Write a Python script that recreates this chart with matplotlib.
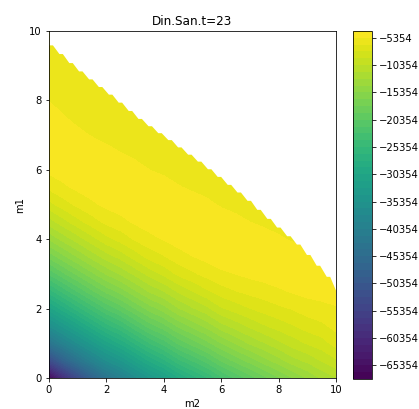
import numpy as np
import matplotlib
matplotlib.use("Agg")
import matplotlib.pyplot as plt

'''Values read off the reference picture'''
# grid positions
m2_vals = [0, 0.5, 1, 1.5, 2, 2.5, 3, 3.5, 4, 4.5, 5,
           5.5, 6, 6.5, 7, 7.5, 8, 8.5, 9, 9.5, 10]
m1_vals = [0, 0.5, 1, 1.5, 2, 2.5, 3, 3.5, 4, 4.5, 5,
           5.5, 6, 6.5, 7, 7.5, 8, 8.5, 9, 9.5, 10]

# Z for each m2 column, from m1=0 upwards (last value lies just past the white edge)
z_cols = [
    [-67000, -53500, -43500, -36600, -31000, -26000, -21500, -17500, -14000, -11000,
     -8300, -6300, -5050, -4480, -4300, -4700, -5400, -5850, -6150, -6450, -6550],
    [-59500, -48000, -39800, -33700, -28400, -23700, -19400, -15700, -12400, -9600,
     -7200, -5600, -4700, -4350, -4480, -5250, -5800, -6120, -6380, -6500],
    [-53500, -43500, -36600, -31000, -26000, -21500, -17500, -14000, -11000, -8300,
     -6300, -5050, -4480, -4300, -5000, -5750, -6100, -6350, -6550, -6600],
    [-48000, -39800, -33700, -28400, -23700, -19400, -15700, -12400, -9600, -7200,
     -5600, -4700, -4350, -4550, -5450, -5950, -6250, -6450, -6600],
    [-43500, -36600, -31000, -26000, -21500, -17500, -14000, -11000, -8300, -6300,
     -5050, -4480, -4300, -5000, -5750, -6100, -6350, -6550],
    [-40500, -34300, -28900, -24200, -19800, -16100, -12700, -9900, -7400, -5740,
     -4770, -4380, -4500, -5360, -5910, -6220, -6430, -6590],
    [-37200, -31500, -26500, -21900, -17900, -14300, -11300, -8560, -6480, -5160,
     -4520, -4310, -4910, -5690, -6070, -6330, -6530],
    [-34300, -28900, -24200, -19800, -16100, -12700, -9900, -7400, -5740, -4770,
     -4380, -4500, -5360, -5910, -6220, -6430],
    [-32100, -27000, -22400, -18300, -14700, -11600, -8800, -6700, -5270, -4570,
     -4320, -4820, -5630, -6040, -6310, -6510],
    [-29400, -24600, -20200, -16400, -13000, -10200, -7600, -5880, -4840, -4400,
     -4450, -5270, -5870, -6190, -6410],
    [-27400, -22800, -18600, -15000, -11800, -9100, -6840, -5380, -4610, -4330,
     -4730, -5570, -6010, -6290, -6490],
    [-25500, -21100, -17100, -13700, -10700, -8100, -6160, -4980, -4450, -4350,
     -5090, -5790, -6130, -6370],
    [-23300, -19000, -15400, -12100, -9300, -7200, -5600, -4660, -4340, -4640,
     -5510, -5980, -6270],
    [-21500, -17500, -14000, -11100, -8560, -6660, -5340, -4550, -4300, -5000,
     -5750, -6100, -6350],
    [-19800, -16100, -12700, -10100, -7900, -6230, -5030, -4430, -4500, -5360,
     -5910, -6220],
    [-18300, -14700, -11700, -9240, -7330, -5940, -4800, -4340, -4820, -5630, -6040],
    [-16800, -13400, -10700, -8560, -6880, -5560, -4570, -4400, -5180, -5830, -6160],
    [-15400, -12100, -9770, -7950, -6520, -5220, -4430, -4640, -5510, -5980],
    [-14000, -11300, -9000, -7300, -6000, -4950, -4450, -4900, -5500],
    [-12700, -10300, -8400, -6900, -5700, -4900, -4450, -4700],
    [-11700, -9300, -7400, -6200, -5450, -4900, -4600],
]

# upper edge of the data (corners of the jagged white edge)
edge_m2 = [0.0, 0.345, 0.69, 1.03, 1.38, 1.72, 2.07, 2.41, 2.76, 3.10,
           3.45, 3.79, 4.14, 4.48, 4.83, 5.17, 5.52, 5.86, 6.21, 6.55,
           6.90, 7.24, 7.59, 7.93, 8.28, 8.62, 8.97, 9.31, 9.66, 10.0]
edge_m1 = [9.60, 9.35, 9.09, 8.85, 8.62, 8.40, 8.18, 7.95, 7.71, 7.48,
           7.27, 7.07, 6.87, 6.66, 6.45, 6.25, 6.03, 5.81, 5.58, 5.36,
           5.12, 4.86, 4.60, 4.35, 4.10, 3.86, 3.56, 3.25, 2.93, 2.50]

levels = np.arange(-67854, -4000, 1250)
cbar_ticks = [-5354, -10354, -15354, -20354, -25354, -30354, -35354,
              -40354, -45354, -50354, -55354, -60354, -65354]

title = "Din.San.t=23"


def main():
    Z = np.full((len(m1_vals), len(m2_vals)), np.nan)
    for j, col in enumerate(z_cols):
        Z[:len(col), j] = col
    M2, M1 = np.meshgrid(m2_vals, m1_vals)

    # jagged edge: short flat step at each corner, then down to the next one
    px, py = [], []
    for k in range(len(edge_m2) - 1):
        px += [edge_m2[k], edge_m2[k] + 0.12]
        py += [edge_m1[k], edge_m1[k]]
    px.append(edge_m2[-1])
    py.append(edge_m1[-1])

    W, H = 419, 409
    fig = plt.figure(figsize=(W / 72, H / 72), dpi=72)
    ax = fig.add_axes([49 / W, 1 - 378 / H, 287 / W, 347 / H])
    cax = fig.add_axes([353 / W, 1 - 379 / H, 19 / W, 348 / H])

    cs = ax.contourf(M2, M1, Z, levels=levels, cmap='viridis')
    ax.fill_between(px, py, 10.5, color='white', lw=0, zorder=1.5)
    ax.set_xlim(0, 10)
    ax.set_ylim(0, 10)
    ax.set_xlabel('m2')
    ax.set_ylabel('m1')
    ax.set_title(title, fontsize=12)

    fig.colorbar(cs, cax=cax, ticks=cbar_ticks)

    fig.savefig('out.png', dpi=72)


if __name__ == "__main__":
    main()
